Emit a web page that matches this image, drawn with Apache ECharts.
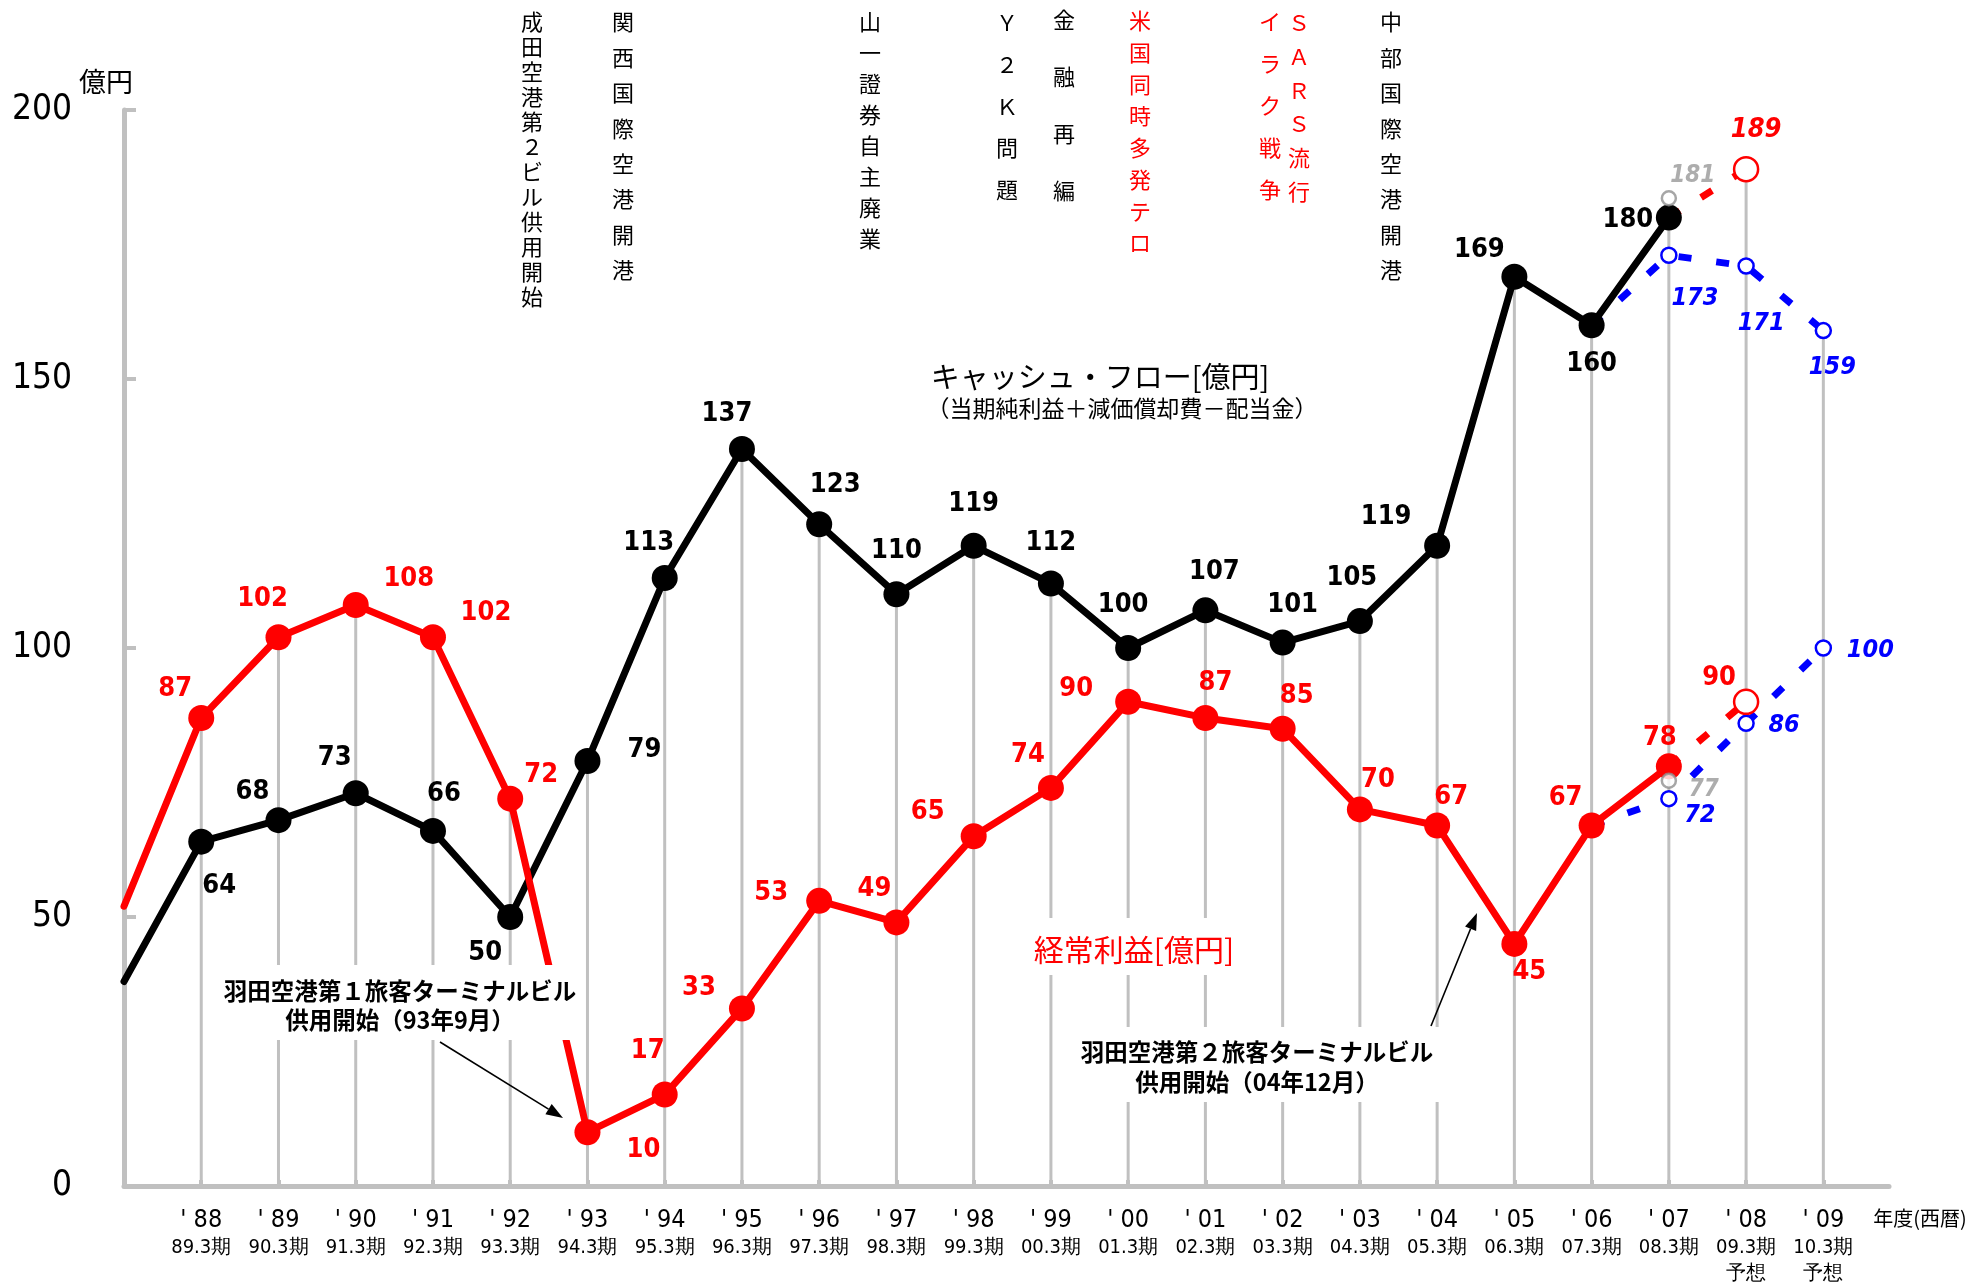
<!DOCTYPE html>
<html><head><meta charset="utf-8">
<script src="https://cdn.jsdelivr.net/npm/echarts@6/dist/echarts.min.js"></script>
<style>html,body{margin:0;padding:0;background:#fff}#c{width:1985px;height:1282px}</style>
</head><body><div id="c"></div>
<script>
// ---------- DATA ----------
const years = [1987, 1988, 1989, 1990, 1991, 1992, 1993, 1994, 1995, 1996, 1997, 1998, 1999, 2000, 2001, 2002, 2003, 2004, 2005, 2006, 2007, 2008, 2009];
const yearLabels = ['', "'88", "'89", "'90", "'91", "'92", "'93", "'94", "'95", "'96", "'97", "'98", "'99", "'00", "'01", "'02", "'03", "'04", "'05", "'06", "'07", "'08", "'09"];
const periodLabels = ['', '89.3期', '90.3期', '91.3期', '92.3期', '93.3期', '94.3期', '95.3期', '96.3期', '97.3期', '98.3期', '99.3期', '00.3期', '01.3期', '02.3期', '03.3期', '04.3期', '05.3期', '06.3期', '07.3期', '08.3期', '09.3期', '10.3期'];
const forecastNotes = ['', '', '', '', '', '', '', '', '', '', '', '', '', '', '', '', '', '', '', '', '', '予想', '予想'];

const actualYears = [1987, 1988, 1989, 1990, 1991, 1992, 1993, 1994, 1995, 1996, 1997, 1998, 1999, 2000, 2001, 2002, 2003, 2004, 2005, 2006, 2007];
const cashFlow = [38, 64, 68, 73, 66, 50, 79, 113, 137, 123, 110, 119, 112, 100, 107, 101, 105, 119, 169, 160, 180];
const ordinaryProfit = [52, 87, 102, 108, 102, 72, 10, 17, 33, 53, 49, 65, 74, 90, 87, 85, 70, 67, 45, 67, 78];

const forecastYears = [2006, 2007, 2008, 2009];
const cashFlowForecast = [160, 173, 171, 159];
const profitForecast = [67, 72, 86, 100];

const planYears = [2007, 2008];
const cashFlowPlan = [180, 189];
const profitPlan = [78, 90];

const prevYears = [2007, 2007];
const prevForecast = [181, 77];

const events = ['成田空港第２ビル供用開始', '関西国際空港開港', '山一證券自主廃業', 'Ｙ２Ｋ問題', '金融再編', '米国同時多発テロ', 'イラク戦争', 'ＳＡＲＳ流行', '中部国際空港開港'];
const eventRed = [false, false, false, false, false, true, true, true, false];

// ---------- LAYOUT / STYLE ----------
const NARROW = '"Liberation Sans Narrow", "DejaVu Sans Condensed", "Arial Narrow", sans-serif';
const JP = '"Noto Sans CJK JP", "Noto Sans", sans-serif';
const eventLayout = [ // [centerX, firstCharCenterY, charStep]
  [532, 22, 25], [623, 22, 35.4], [870, 22, 30.9], [1007, 23, 41.7], [1064, 20, 57],
  [1140, 21, 31.7], [1270, 22, 42], [1299, 23, 33.7], [1391, 22, 35.4]
];
const cfOffsets = [null, [18,44], [-26,-28], [-21,-35], [11,-37], [-25,36], [57,-11], [-16,-35], [-15,-35], [16,-39], [0,-43], [0,-42], [0,-40], [-5,-43], [9,-38], [10,-38], [-8,-43], [-51,-29], [-35,-27], [0,39], [-41,2]];
const opOffsets = [null, [-26,-29], [-16,-38], [53,-26], [53,-24], [31,-24], [56,18], [-17,-44], [-43,-20], [-48,-8], [-22,-33], [-46,-24], [-23,-33], [-52,-13], [10,-35], [14,-33], [18,-29], [14,-29], [15,28], [-26,-28], [-9,-28]];
const cfFcOffsets = [null, [26,43], [15,57], [9,37]];
const opFcOffsets = [null, [31,17], [38,2], [47,2]];
const cfPlanOffsets = [null, [10,-39]];
const opPlanOffsets = [null, [-27,-24]];
const prevOffsets = [[24,-22], [35,9]];
const prevSymbolShift = [[0,-14], [0,9]];

function buildData(xs, ys, offsets) {
  return xs.map((x, i) => {
    const item = { value: [x, ys[i]] };
    if (offsets[i]) item.label = { offset: offsets[i] };
    else { item.label = { show: false }; item.symbol = 'none'; }
    return item;
  });
}

// drop lines: highest value at each year
const dropMap = {};
function addDrop(xs, ys) { xs.forEach((x, i) => { dropMap[x] = Math.max(dropMap[x] || 0, ys[i]); }); }
addDrop(actualYears.slice(1), cashFlow.slice(1));
addDrop(actualYears.slice(1), ordinaryProfit.slice(1));
addDrop(forecastYears, cashFlowForecast);
addDrop(forecastYears, profitForecast);
addDrop(planYears, cashFlowPlan);
addDrop(planYears, profitPlan);
addDrop(prevYears, prevForecast);
const dropData = Object.keys(dropMap).map(k => [Number(k), dropMap[k]]);

const valueLabel = (color, size, italic) => ({
  show: true, position: 'inside', color: color, fontFamily: NARROW, fontWeight: 'bold',
  fontStyle: italic ? 'italic' : 'normal', fontSize: size,
  formatter: p => String(p.value[1])
});

function arrow(x1, y1, x2, y2) {
  const a = Math.atan2(y2 - y1, x2 - x1), L = 17, W = 6;
  const bx = x2 - L * Math.cos(a), by = y2 - L * Math.sin(a);
  const nx = -Math.sin(a), ny = Math.cos(a);
  return [
    { type: 'line', z: 102, shape: { x1: x1, y1: y1, x2: bx, y2: by }, style: { stroke: '#000', lineWidth: 1.6 } },
    { type: 'polygon', z: 102, shape: { points: [[x2, y2], [bx + W * nx, by + W * ny], [bx - W * nx, by - W * ny]] }, style: { fill: '#000' } }
  ];
}

function txt(x, y, text, font, fill, extra) {
  return Object.assign({ type: 'text', z: 100, x: x, y: y,
    style: Object.assign({ text: text, font: font, fill: fill, align: 'center', verticalAlign: 'middle', textAlign: 'center', textVerticalAlign: 'middle' }, extra || {}) });
}

const graphics = [];
events.forEach((t, i) => {
  const [cx, cy, step] = eventLayout[i];
  graphics.push(txt(cx, cy - step / 2, t.split('').join('\n'), '22px ' + JP, eventRed[i] ? '#ff0000' : '#000',
    { verticalAlign: 'top', textVerticalAlign: 'top', lineHeight: step }));
});
graphics.push(txt(106, 82, '億円', '27px ' + JP, '#000'));
graphics.push(txt(1920, 1218, '年度(西暦)', '20px ' + JP, '#000'));
graphics.push(txt(1100, 377, 'キャッシュ・フロー[億円]', '29px ' + JP, '#000'));
graphics.push(txt(1122, 408, '（当期純利益＋減価償却費－配当金）', '23px ' + JP, '#000'));
// white boxes behind annotations
graphics.push({ type: 'rect', z: 99, shape: { x: 1025, y: 918, width: 220, height: 57 }, style: { fill: '#fff' } });
graphics.push(txt(1134, 950, '経常利益[億円]', '30px ' + JP, '#ff0000'));
graphics.push({ type: 'rect', z: 99, shape: { x: 210, y: 965, width: 365, height: 75 }, style: { fill: '#fff' } });
graphics.push(txt(400, 977, '羽田空港第１旅客ターミナルビル\n供用開始（93年9月）', 'bold 23.5px ' + JP, '#000',
  { verticalAlign: 'top', textVerticalAlign: 'top', lineHeight: 29 }));
graphics.push({ type: 'rect', z: 99, shape: { x: 1070, y: 1027, width: 375, height: 75 }, style: { fill: '#fff' } });
graphics.push(txt(1257, 1037, '羽田空港第２旅客ターミナルビル\n供用開始（04年12月）', 'bold 23.5px ' + JP, '#000',
  { verticalAlign: 'top', textVerticalAlign: 'top', lineHeight: 30 }));
graphics.push(...arrow(440, 1042, 563, 1118));
graphics.push(...arrow(1431, 1026, 1477, 913));

const chart = echarts.init(document.getElementById('c'), null, { renderer: 'canvas' });
chart.setOption({
  animation: false,
  backgroundColor: '#fff',
  grid: { left: 124, top: 110, width: 1765, height: 1076, outerBoundsMode: 'none' },
  xAxis: {
    type: 'value', min: 1987, max: 2009.85, interval: 1,
    axisLine: { show: true, lineStyle: { color: '#c0c0c0', width: 5 } },
    axisTick: { show: true, inside: true, length: 6, lineStyle: { color: '#c0c0c0', width: 4 } },
    splitLine: { show: false },
    axisLabel: {
      margin: 19, showMaxLabel: false, showMinLabel: false,
      formatter: v => {
        const r = Math.round(v);
        if (Math.abs(v - r) > 0.01) return '';
        const i = years.indexOf(r);
        if (i <= 0) return '';
        let s = '{a|' + yearLabels[i].replace("'", "' ") + '}\n{b|' + periodLabels[i] + '}';
        if (forecastNotes[i]) s += '\n{b|' + forecastNotes[i] + '}';
        return s;
      },
      rich: {
        a: { fontSize: 25, lineHeight: 30, fontFamily: NARROW, color: '#000' },
        b: { fontSize: 20, lineHeight: 26, fontFamily: NARROW, color: '#000' }
      }
    }
  },
  yAxis: {
    type: 'value', min: 0, max: 200, interval: 50,
    axisLine: { show: true, lineStyle: { color: '#c0c0c0', width: 5 } },
    axisTick: { show: true, inside: true, length: 12, lineStyle: { color: '#c0c0c0', width: 4 } },
    splitLine: { show: false },
    axisLabel: { margin: 52, fontSize: 35, fontFamily: NARROW, color: '#000' }
  },
  graphic: { elements: graphics },
  series: [
    { type: 'bar', name: 'drop', data: dropData, barWidth: 3, itemStyle: { color: '#c0c0c0' }, z: 1, silent: true },
    { type: 'line', name: 'cfForecast', z: 2, data: buildData(forecastYears, cashFlowForecast, cfFcOffsets),
      symbol: 'circle', symbolSize: 15, itemStyle: { color: '#fff', borderColor: '#0000ff', borderWidth: 2.5 },
      lineStyle: { color: '#0000ff', width: 7, type: [13, 25], cap: 'butt' }, label: valueLabel('#0000ff', 25, true) },
    { type: 'line', name: 'opForecast', z: 2, data: buildData(forecastYears, profitForecast, opFcOffsets),
      symbol: 'circle', symbolSize: 15, itemStyle: { color: '#fff', borderColor: '#0000ff', borderWidth: 2.5 },
      lineStyle: { color: '#0000ff', width: 7, type: [13, 25], cap: 'butt' }, label: valueLabel('#0000ff', 25, true) },
    { type: 'line', name: 'cfPlan', z: 2, data: buildData(planYears, cashFlowPlan, cfPlanOffsets),
      symbol: 'circle', symbolSize: 24, itemStyle: { color: '#fff', borderColor: '#ff0000', borderWidth: 2.5 },
      lineStyle: { color: '#ff0000', width: 7, type: [13, 25], cap: 'butt' }, label: valueLabel('#ff0000', 27, true) },
    { type: 'line', name: 'opPlan', z: 2, data: buildData(planYears, profitPlan, opPlanOffsets),
      symbol: 'circle', symbolSize: 24, itemStyle: { color: '#fff', borderColor: '#ff0000', borderWidth: 2.5 },
      lineStyle: { color: '#ff0000', width: 7, type: [13, 25], cap: 'butt' }, label: valueLabel('#ff0000', 27, false) },
    { type: 'line', name: 'cashFlow', z: 3, data: buildData(actualYears, cashFlow, cfOffsets),
      symbol: 'circle', symbolSize: 26, itemStyle: { color: '#000' },
      lineStyle: { color: '#000', width: 7, cap: 'round', join: 'round' }, label: valueLabel('#000', 27, false) },
    { type: 'line', name: 'ordinaryProfit', z: 4, data: buildData(actualYears, ordinaryProfit, opOffsets),
      symbol: 'circle', symbolSize: 26, itemStyle: { color: '#ff0000' },
      lineStyle: { color: '#ff0000', width: 7, cap: 'round', join: 'round' }, label: valueLabel('#ff0000', 27, false) },
    { type: 'scatter', name: 'prev', z: 5,
      data: prevYears.map((x, i) => ({ value: [x, prevForecast[i]], symbolOffset: prevSymbolShift[i], label: { offset: prevOffsets[i] } })),
      symbol: 'circle', symbolSize: 14, itemStyle: { color: '#fff', borderColor: '#909090', borderWidth: 2.5 },
      label: valueLabel('#999999', 24, true) }
  ]
});
</script></body></html>
